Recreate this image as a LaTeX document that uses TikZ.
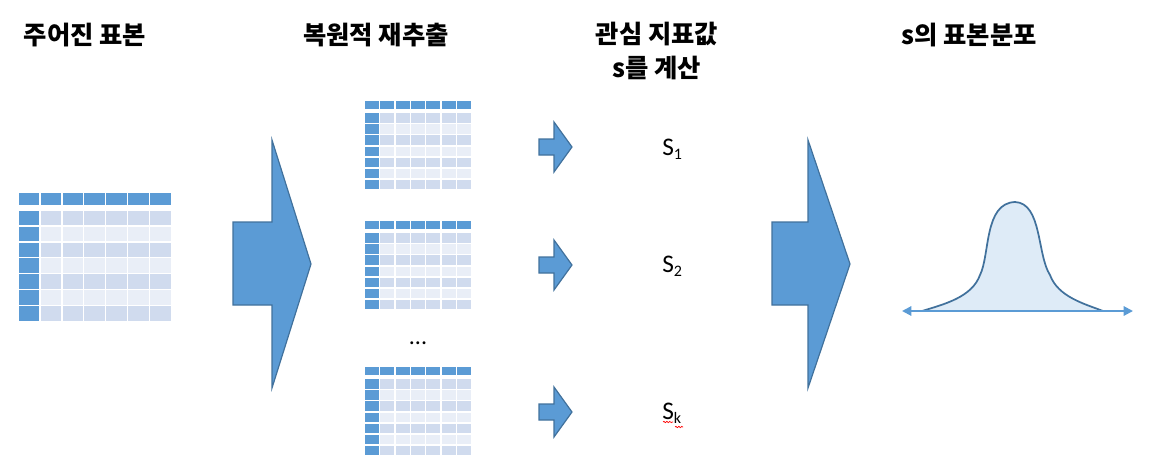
\documentclass[tikz,border=0pt]{standalone}
\usepackage{fontspec}
\setmainfont{Carlito}
\newfontfamily\krfont{Noto Sans CJK KR}
\usetikzlibrary{arrows.meta,decorations.pathmorphing}

\definecolor{arrowblue}{HTML}{5B9BD5}
\definecolor{arrowedge}{HTML}{41719C}
\definecolor{rowdark}{HTML}{D0DBEE}
\definecolor{rowlight}{HTML}{E9EEF7}
\definecolor{curvefill}{HTML}{DEEBF7}

% left, top, cell width, header height, gap, row height
\newcommand{\datatable}[6]{%
  \foreach \c in {0,...,6}
    \filldraw[tablecell, fill=arrowblue] (#1+\c*#3,#2) rectangle ++(#3,#4);
  \foreach \r/\rowcol in {0/rowdark,1/rowlight,2/rowdark,3/rowlight,4/rowdark,5/rowlight,6/rowdark}{
    \filldraw[tablecell, fill=arrowblue] (#1,#2+#4+#5+\r*#6) rectangle ++(#3,#6);
    \foreach \c in {1,...,6}
      \filldraw[tablecell, fill=\rowcol] (#1+\c*#3,#2+#4+#5+\r*#6) rectangle ++(#3,#6);
  }%
}
\newcommand{\ssub}[1]{\raisebox{-3pt}{\fontsize{12}{12}\selectfont #1}}

\begin{document}
\begin{tikzpicture}[x=0.75pt,y=-0.75pt,
  title/.style={font=\krfont\bfseries\fontsize{19}{25}\selectfont, align=center, inner sep=0pt},
  slabel/.style={font=\fontsize{19}{22}\selectfont, inner sep=0pt, anchor=base west},
  tablecell/.style={draw=white, line width=1.1pt},
  blockarrow/.style={fill=arrowblue, draw=arrowedge, line width=0.9pt, line join=miter},
  spellmark/.style={red, line width=0.5pt, decorate, decoration={snake, amplitude=0.5pt, segment length=2.2pt}}]
\useasboundingbox (0,0) rectangle (1153,472);

% titles
\node[title] (given) at (85,35) {주어진 표본};
\node[title] (resample) at (376,35) {복원적 재추출};
\node[title] (stat) at (657,51) {관심 지표값\\s를 계산};
\node[title] (dist) at (969,35) {s의 표본분포};

% tables
\datatable{18}{192}{21.9}{14}{4}{15.9}
\datatable{364}{100}{15.43}{10}{2.5}{11.1}
\datatable{364}{220}{15.43}{10}{2.5}{11.1}
\datatable{364}{366}{15.43}{10}{2.5}{11.1}
\node[font=\fontsize{18}{20}\selectfont, inner sep=0pt, anchor=base] (dots) at (418,344) {...};

% big arrows
\draw[blockarrow] (233,222) -- (272,222) -- (272,140) -- (311,264) -- (272,388) -- (272,305) -- (233,305) -- cycle;
\draw[blockarrow] (772,222) -- (808,222) -- (808,140) -- (850,264) -- (808,388) -- (808,305) -- (772,305) -- cycle;

% small arrows
\foreach \ym in {147,265,412}
  \draw[blockarrow] (539,\ym-8) -- (554,\ym-8) -- (554,\ym-25) -- (572,\ym) -- (554,\ym+25) -- (554,\ym+8) -- (539,\ym+8) -- cycle;

% statistics
\node[slabel] (s1) at (662,155) {S\ssub{1}};
\node[slabel] (s2) at (662,272) {S\ssub{2}};
\node[slabel] (sk) at (662,419) {S\ssub{k}};
\draw[spellmark] (663,422) -- (673,422);
\draw[spellmark] (675,427) -- (683,427);

% sampling distribution
\filldraw[fill=curvefill, draw=arrowedge, line width=1.3pt]
  (922,311) .. controls (945,304) and (972,297) .. (980,275)
  .. controls (990,255) and (984,203) .. (1015,202)
  .. controls (1042,203) and (1037,255) .. (1050,275)
  .. controls (1058,297) and (1085,304) .. (1103,311);
\draw[arrowblue, line width=1.5pt, {Triangle[length=7pt,width=7pt]}-{Triangle[length=7pt,width=7pt]}] (902,311) -- (1133,311);
\end{tikzpicture}
\end{document}
